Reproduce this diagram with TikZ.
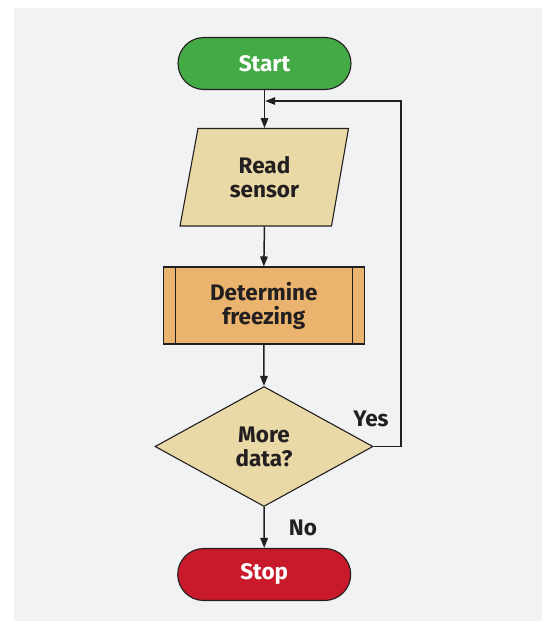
\documentclass[tikz,border=0pt]{standalone}
\usepackage{fontspec}
\setmainfont{Fira Sans}
\usetikzlibrary{arrows.meta,shapes.geometric}
\definecolor{bgpanel}{HTML}{F1F2F4}
\definecolor{ink}{HTML}{231F20}
\definecolor{startgreen}{HTML}{44AA45}
\definecolor{stopred}{HTML}{C81A2A}
\definecolor{ioyellow}{HTML}{E9D9A6}
\definecolor{procorange}{HTML}{EBB46E}
\tikzset{
  lbl/.style={text=ink, font=\bfseries\fontsize{22.5}{24}\selectfont, align=center},
  terminal/.style={draw=ink, line width=1.1pt, minimum width=173pt, minimum height=52pt,
     rounded corners=26pt, text=white, font=\bfseries\fontsize{22.5}{24}\selectfont, inner sep=0pt},
  iobox/.style={minimum width=150pt, minimum height=98pt, inner sep=0pt, lbl},
  procbox/.style={draw=ink, line width=1.1pt, fill=procorange, minimum width=201pt,
     minimum height=77pt, inner sep=0pt, lbl},
  decbox/.style={draw=ink, line width=1.1pt, fill=ioyellow, diamond, aspect=1.82,
     minimum width=218pt, minimum height=120pt, inner sep=0pt, lbl},
  flow/.style={draw=ink, line width=1.5pt, -{Triangle[length=10pt,width=7.5pt]}}
}
\begin{document}
\begin{tikzpicture}[x=1pt,y=-1pt]
\useasboundingbox (0,0) rectangle (544,621);
\fill[bgpanel] (14,8) rectangle (542,621);

\node[terminal, fill=startgreen] (start) at (264.5,63.5) {Start};

\fill[ioyellow, draw=ink, line width=1.1pt] (198,128.5) -- (348.5,128.5) -- (331.5,226) -- (180,226) -- cycle;
\node[iobox] (read) at (264.5,177.3) {Read\\sensor};

\node[procbox] (proc) at (263.8,305.5) {Determine\\freezing};
\draw[ink, line width=1.1pt] ([xshift=12.5pt]proc.north west) -- ([xshift=12.5pt]proc.south west);
\draw[ink, line width=1.1pt] ([xshift=-12.5pt]proc.north east) -- ([xshift=-12.5pt]proc.south east);

\node[decbox] (dec) at (264,446.5) {More\\data?};

\node[terminal, fill=stopred] (stop) at (264.2,574.5) {Stop};

\coordinate (join) at (265.2,101);
\coordinate (loopcorner) at (401,446.5);

\draw[flow] (start.south) -- (read.north);
\draw[flow] (read.south) -- (proc.north);
\draw[flow] (proc.south) -- (dec.north);
\draw[flow] (dec.south) -- (stop.north);
\draw[flow] (dec.east) -- (loopcorner) |- (join);

\node[lbl] (yes) at (371,419) {Yes};
\node[lbl] (no) at (303,528) {No};
\end{tikzpicture}
\end{document}
